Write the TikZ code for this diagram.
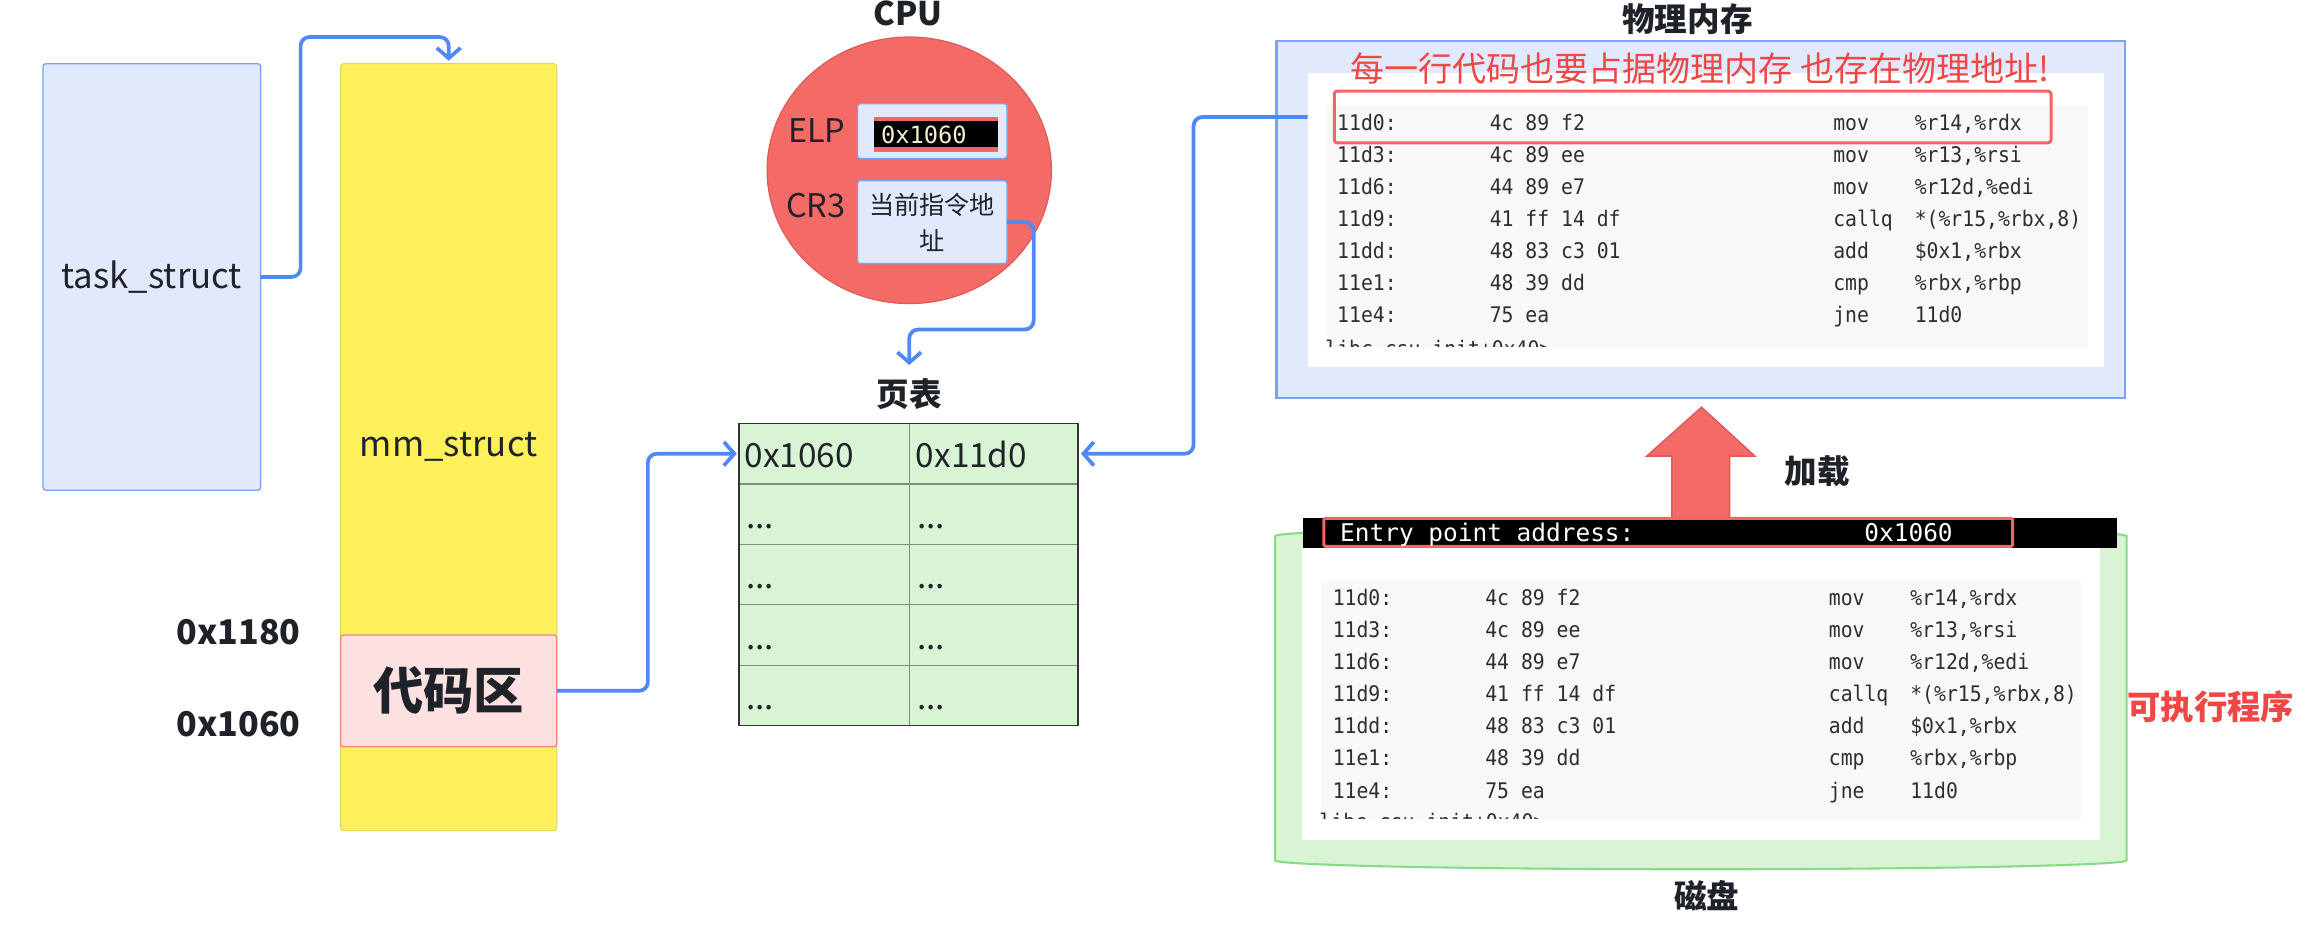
\documentclass[tikz,border=0pt]{standalone}
\usepackage{fontspec}
\setmainfont{Noto Sans CJK SC}
\newfontfamily\codefont{DejaVu Sans Mono}[FakeStretch=0.92]
\newfontfamily\monofont{DejaVu Sans Mono}
\usetikzlibrary{arrows.meta,calc,shapes.geometric}
\definecolor{arrowblue}{HTML}{5088F7}
\definecolor{bblue}{HTML}{7AA3F5}
\definecolor{lblue}{HTML}{E1E9FD}
\definecolor{yel}{HTML}{FEF05A}
\definecolor{yelb}{HTML}{E2D45A}
\definecolor{pinkf}{HTML}{FDE1E1}
\definecolor{pinkb}{HTML}{F28585}
\definecolor{cpured}{HTML}{F46A66}
\definecolor{cpuborder}{HTML}{E05A56}
\definecolor{greenf}{HTML}{D9F4D5}
\definecolor{greenb}{HTML}{86DC86}
\definecolor{tblb}{HTML}{333333}
\definecolor{tbli}{HTML}{7F8C7F}
\definecolor{hlred}{HTML}{F26565}
\definecolor{redtext}{HTML}{F04646}
\definecolor{textcol}{HTML}{1F2329}
\definecolor{codegrey}{HTML}{2E2E2E}
\definecolor{cream}{HTML}{F5EFD2}
\definecolor{faint}{HTML}{F8F8F8}
\newcommand\drawlisting[3]{%
  \foreach \a/\b/\c/\d [count=\i] in {11d0:/4c 89 f2/mov/{\%r14,\%rdx},
      11d3:/4c 89 ee/mov/{\%r13,\%rsi},
      11d6:/44 89 e7/mov/{\%r12d,\%edi},
      11d9:/41 ff 14 df/callq/{*(\%r15,\%rbx,8)},
      11dd:/48 83 c3 01/add/{\$0x1,\%rbx},
      11e1:/48 39 dd/cmp/{\%rbx,\%rbp},
      11e4:/75 ea/jne/11d0}{
    \node[codetxt] (#1a\i) at ({#2}, {#3+21.65*(\i-1)}) {\a};
    \node[codetxt] (#1b\i) at ({#2+103}, {#3+21.65*(\i-1)}) {\b};
    \node[codetxt] (#1c\i) at ({#2+335}, {#3+21.65*(\i-1)}) {\c};
    \node[codetxt] (#1d\i) at ({#2+390}, {#3+21.65*(\i-1)}) {\d};
  }}
\begin{document}
\begin{tikzpicture}[x=1pt,y=-1pt,
  every node/.style={inner sep=0pt, outer sep=0pt, text=textcol},
  font=\fontsize{22}{26}\selectfont,
  box/.style={rectangle, rounded corners=2pt, line width=0.9pt},
  boldlab/.style={font=\bfseries\fontsize{22}{26}\selectfont},
  conn/.style={draw=arrowblue, line width=2.5pt, rounded corners=6pt,
    -{Straight Barb[length=7pt,width=16pt]}},
  cell/.style={rectangle, fill=greenf, draw=tbli, line width=0.8pt},
  codetxt/.style={anchor=base west, text=codegrey, font=\codefont\fontsize{14.5}{16}\selectfont},
  celltxt/.style={anchor=base west, font=\fontsize{22.5}{26}\selectfont}]
\fill[white] (0,0) rectangle (1568,628);
\useasboundingbox (0,0) rectangle (1568,628);

% left structures
\node[box, fill=lblue, draw=bblue, minimum width=147, minimum height=288, font=\fontsize{23.5}{26}\selectfont] (task) at (102.5,187) {task\_struct};
\node[box, fill=yel, draw=yelb, line width=0.6pt, minimum width=146, minimum height=518, font=\fontsize{23.5}{26}\selectfont] (mm) at (303,302) {mm\_struct};
\node[box, fill=pinkf, draw=pinkb, minimum width=146, minimum height=75.5, font=\bfseries\fontsize{34}{38}\selectfont] (code) at (303,466.5) {代码区};
\node[anchor=base east, font=\bfseries\fontsize{23}{26}\selectfont] (l1180) at (203,435.5) {0x1180};
\node[anchor=base east, font=\bfseries\fontsize{23}{26}\selectfont] (l1060) at (203,497.6) {0x1060};

% CPU
\node[ellipse, fill=cpured, draw=cpuborder, line width=0.8pt, minimum width=192, minimum height=180] (cpu) at (614,115) {};
\node[anchor=base, boldlab] (cpulabel) at (613,17) {CPU};
\node[anchor=base east] (elplab) at (571,96) {ELP};
\node[box, fill=lblue, draw=bblue, minimum width=101, minimum height=37] (elp) at (629.5,88.5) {};
\node[fill=black, minimum width=84, minimum height=23.5] (elpval) at (632,90.75) {};
\fill[hlred] (elpval.north west) rectangle ++(84,2.5);
\fill[hlred] (elpval.south west) rectangle ++(84,-3.5);
\node[anchor=base west, text=cream, font=\monofont\fontsize{16}{18}\selectfont] (elptext) at (595,96.8) {0x1060};
\node[anchor=base east] (cr3lab) at (571,147) {CR3};
\node[box, fill=lblue, draw=bblue, minimum width=101, minimum height=56, align=center,
  font=\fontsize{17}{24.5}\selectfont] (cr3) at (629.5,150) {当前指令地\\址};

% page table
\node[boldlab] (ptlabel) at (614,266) {页表};
\foreach \r in {1,...,5}{
  \node[cell, minimum width=115, minimum height=40.8] (c\r a) at (556.5,{286+40.8*(\r-0.5)}) {};
  \node[cell, minimum width=114, minimum height=40.8] (c\r b) at (671,{286+40.8*(\r-0.5)}) {};
}
\node[draw=tblb, line width=1pt, minimum width=229, minimum height=204] (pt) at (613.5,388) {};
\node[celltxt] (t1a) at (503,316) {0x1060};
\node[celltxt] (t1b) at (618.5,316) {0x11d0};
\foreach \r in {2,...,5}{
  \node[celltxt] (t\r a) at (504,{286+40.8*(\r-1)+30}) {...};
  \node[celltxt] (t\r b) at (619.5,{286+40.8*(\r-1)+30}) {...};
}

% physical memory
\node[rectangle, fill=lblue, draw=bblue, line width=1.4pt, minimum width=573, minimum height=241] (phys) at (1148.5,148.5) {};
\node[boldlab] (physlabel) at (1139.5,13) {物理内存};
\node[fill=white, minimum width=538, minimum height=199] (physimg) at (1152,148.5) {};
\fill[faint] (896,71) rectangle (1410,234);
\drawlisting{p}{903}{87.8}
\begin{scope}
  \clip (883,49) rectangle (1421,234);
  \node[codetxt] (ppart) at (895,241) {libc\_csu\_init+0x40>};
\end{scope}
\node[draw=hlred, line width=2pt, rounded corners=2pt, minimum width=484, minimum height=35] (hl) at (1143,79) {};
\node[text=redtext, font=\fontsize{23}{26}\selectfont] (note) at (1148,46) {每一行代码也要占据物理内存 也存在物理地址!};

% disk
\path[fill=greenf, draw=greenb, line width=1.4pt] (861,362) -- (861,581)
  arc[start angle=180, end angle=360, x radius=287.5pt, y radius=6pt]
  -- (1436,362) arc[start angle=0, end angle=180, x radius=287.5pt, y radius=6pt] -- cycle;
\path[fill=cpured, draw=cpuborder, line width=1pt] (1149,275) -- (1185,308) -- (1168,308) -- (1168,352)
  -- (1129,352) -- (1129,308) -- (1112,308) -- cycle;
\node[boldlab] (loadlab) at (1227,318) {加载};
\node[fill=white, minimum width=539, minimum height=197] (diskimg) at (1148.5,468.5) {};
\fill[faint] (892,392) rectangle (1405,553);
\drawlisting{d}{900}{409}
\begin{scope}
  \clip (879,370) rectangle (1418,553);
  \node[codetxt] (dpart) at (891,560) {libc\_csu\_init+0x40>};
\end{scope}
\node[fill=black, minimum width=549.5, minimum height=20.5] (entry) at (1154.75,359.75) {};
\node[draw=hlred, line width=2pt, rounded corners=1pt, minimum width=465, minimum height=19] (entryhl) at (1126.5,359.5) {};
\node[anchor=base west, text=white, font=\monofont\fontsize{16.5}{18}\selectfont] (entrytxt) at (905,366) {Entry point address:};
\node[anchor=base west, text=white, font=\monofont\fontsize{16.5}{18}\selectfont] (entryval) at (1259,366) {0x1060};
\node[boldlab] (disklab) at (1152.5,605) {磁盘};
\node[text=redtext, font=\bfseries\fontsize{22.5}{26}\selectfont] (exelab) at (1493,477) {可执行程序};

% connectors
\draw[conn, shorten >=2pt] (task.east) -- ++(27,0) |- ($(mm.north)+(0,-18)$) -- (mm.north);
\draw[conn, shorten >=1.5pt] (code.east) -- ++(61.5,0) |- (c1a.west);
\draw[conn, shorten >=9pt] (cr3.east) -- ++(18,0) |- ($(ptlabel.north)+(0,-33)$) -- (ptlabel.north);
\draw[conn, shorten >=2pt] (physimg.west |- hl.center) -- ++(-77,0) |- (c1b.east);
\end{tikzpicture}
\end{document}
